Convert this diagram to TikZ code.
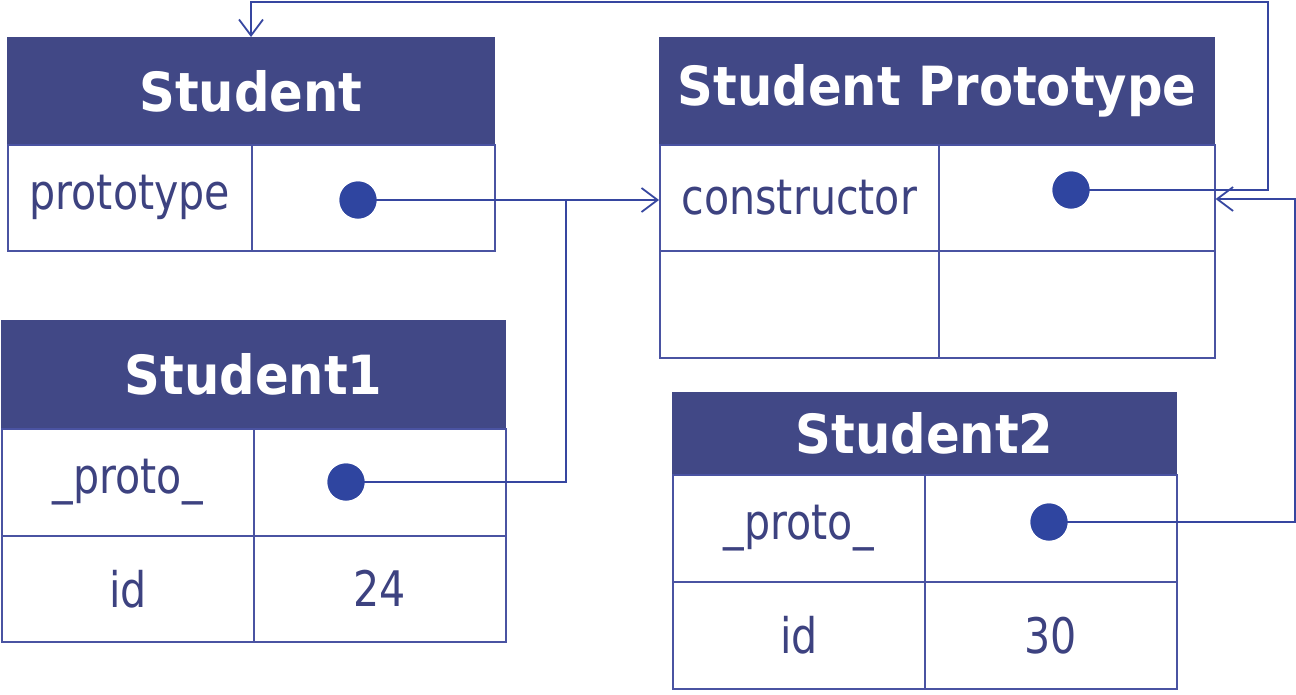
\documentclass[tikz,border=0pt]{standalone}
\usepackage{fontspec}
\setmainfont{DejaVu Sans}[FakeStretch=0.84]
\newfontfamily\hdrfont{DejaVu Sans Bold}[FakeStretch=0.92]
\usetikzlibrary{arrows.meta}
\definecolor{hdrblue}{HTML}{414886}
\definecolor{txtblue}{HTML}{3D4280}
\definecolor{lineblue}{HTML}{4A53A2}
\definecolor{connblue}{HTML}{3646A0}
\definecolor{dotblue}{HTML}{2F45A0}
\begin{document}
\begin{tikzpicture}[x=1pt,y=-1pt,
  cell/.style={draw=lineblue, line width=1.6pt, fill=white, anchor=north west, inner sep=0pt,
    text=txtblue, font=\fontsize{49}{55}\selectfont},
  hdr/.style={draw=hdrblue, line width=1pt, fill=hdrblue, anchor=north west, inner sep=0pt,
    text=white, font=\hdrfont\fontsize{54}{60}\selectfont},
  dot/.style={circle, fill=dotblue, inner sep=0pt, minimum size=37pt},
  conn/.style={draw=connblue, line width=1.8pt},
  arr/.style={conn, -{Straight Barb[length=16pt, width=24pt]}}]
\useasboundingbox (0,0) rectangle (1296,694);
\fill[white] (0,0) rectangle (1296,694);

% Student
\node[hdr, minimum width=487pt, minimum height=107pt] (sh) at (7,37) {Student};
\node[cell, minimum width=244pt, minimum height=106pt] (sa) at (7,144) {prototype};
\node[cell, minimum width=243pt, minimum height=106pt] (sb) at (251,144) {};

% Student Prototype
\node[hdr, minimum width=555pt, minimum height=107pt] (ph) at (659,37) {Student Prototype};
\node[cell, minimum width=279pt, minimum height=106pt] (pa) at (659,144) {constructor};
\node[cell, minimum width=276pt, minimum height=106pt] (pb) at (938,144) {};
\node[cell, minimum width=279pt, minimum height=107pt] (pc) at (659,250) {};
\node[cell, minimum width=276pt, minimum height=107pt] (pd) at (938,250) {};

% Student1
\node[hdr, minimum width=504pt, minimum height=108pt] (ah) at (1,320) {Student1};
\node[cell, minimum width=252pt, minimum height=107pt] (aa) at (1,428) {\_proto\_};
\node[cell, minimum width=252pt, minimum height=107pt] (ab) at (253,428) {};
\node[cell, minimum width=252pt, minimum height=106pt] (ac) at (1,535) {id};
\node[cell, minimum width=252pt, minimum height=106pt] (ad) at (253,535) {24};

% Student2
\node[hdr, minimum width=504pt, minimum height=82pt] (bh) at (672,392) {Student2};
\node[cell, minimum width=252pt, minimum height=107pt] (ba) at (672,474) {\_proto\_};
\node[cell, minimum width=252pt, minimum height=107pt] (bb) at (924,474) {};
\node[cell, minimum width=252pt, minimum height=107pt] (bc) at (672,581) {id};
\node[cell, minimum width=252pt, minimum height=107pt] (bd) at (924,581) {30};

% junction / corner coordinates
\coordinate (j1) at (566,200);
\coordinate (t1) at (1268,2);
\coordinate (t2) at (1295,199);

% dots
\node[dot] (d1) at (358,200) {};
\node[dot] (d2) at (1071,190) {};
\node[dot] (d3) at (346,482) {};
\node[dot] (d4) at (1049,522) {};

% connectors
\draw[arr] (d1.center) -- (d1 -| pa.west);
\draw[conn] (d3.center) -| (j1);
\draw[arr] (d2.center) -| (t1) -| (sh.north);
\draw[arr] (d4.center) -| (t2) -- (t2 -| pb.east);

% dots on top
\fill[dotblue] (d1) circle (18.5pt);
\fill[dotblue] (d2) circle (18.5pt);
\fill[dotblue] (d3) circle (18.5pt);
\fill[dotblue] (d4) circle (18.5pt);
\end{tikzpicture}
\end{document}
